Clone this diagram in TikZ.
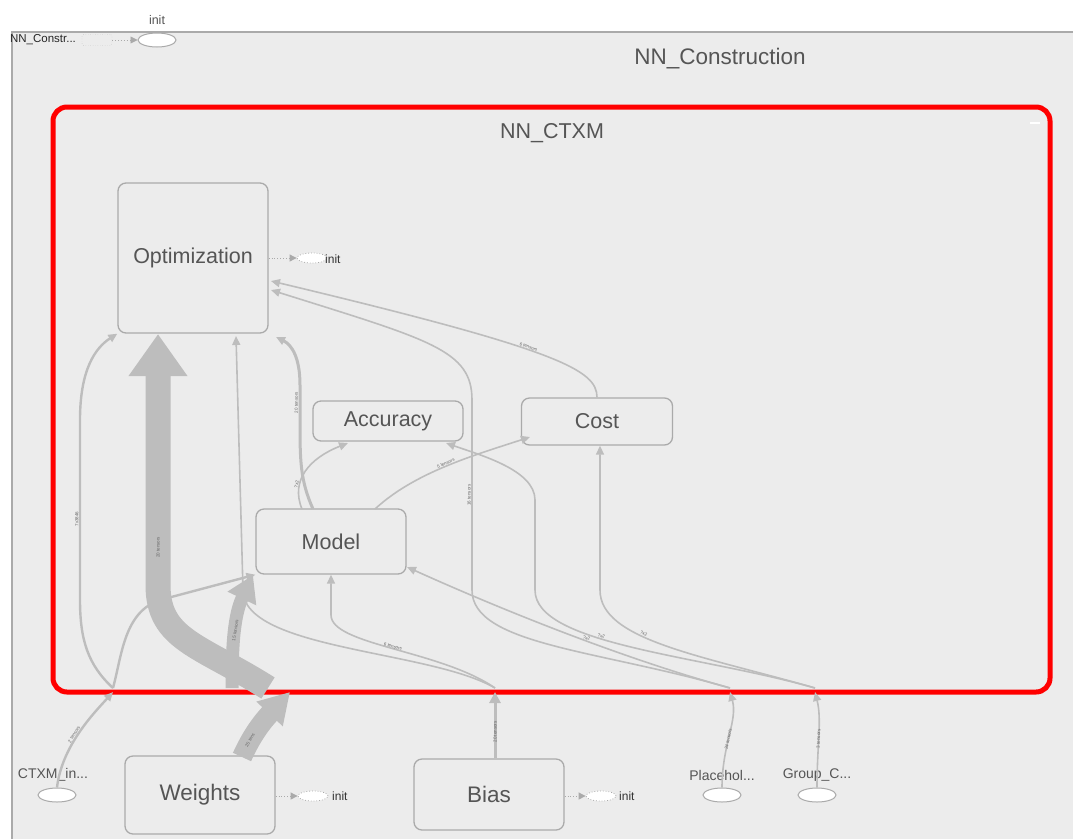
\documentclass[tikz,border=0pt]{standalone}
\usepackage{fontspec}
\setmainfont{Liberation Sans}
\usetikzlibrary{arrows.meta,shapes.geometric}
\definecolor{bg}{HTML}{ECECEC}
\definecolor{edgec}{HTML}{BDBDBD}
\definecolor{bord}{HTML}{AAAAAA}
\definecolor{txt}{HTML}{555555}
\begin{document}
\begin{tikzpicture}[x=1pt,y=-1pt,
  grp/.style={draw=bord, fill=bg, rounded corners=8pt, line width=1.3pt, text=txt,
     font=\fontsize{21.5}{23}\selectfont, inner sep=0pt},
  opell/.style={ellipse, draw=bord, fill=white, line width=1pt, minimum width=38pt, minimum height=14pt, inner sep=0pt},
  initell/.style={ellipse, draw=bord, dotted, fill=white, line width=0.8pt, minimum width=30pt, minimum height=10pt, inner sep=0pt},
  initlbl/.style={font=\fontsize{12}{13}\selectfont, text=black!80, anchor=west, inner sep=0pt},
  oplbl/.style={font=\fontsize{14}{15}\selectfont, text=txt, inner sep=0pt},
  ctl/.style={draw=bord, dotted, line width=0.9pt, -{Triangle[length=7pt,width=7pt]}},
  e/.style={draw=edgec, line width=1.6pt, -{Triangle[length=9pt,width=8pt]}},
  ew/.style={draw=edgec, line width=3pt, -{Triangle[length=11pt,width=11pt]}},
  lbl/.style={sloped, font=\fontsize{4.5}{5}\selectfont, text=black!60, inner sep=0.5pt}
]
\useasboundingbox (0,0) rectangle (1073,839);
\fill[white] (0,0) rectangle (1073,839);
% outer group
\fill[bg] (12,32) rectangle (1073,839);
\draw[bord, line width=1.2pt] (12,839) -- (12,32) -- (1073,32);
\node[font=\fontsize{22.5}{24}\selectfont, text=txt] (nnc) at (720,59) {NN\_Construction};
% red group
\node[draw=red, line width=5pt, rounded corners=14pt, fill=bg, minimum width=997pt, minimum height=585pt, inner sep=0pt] (ctxm) at (551.5,399.5) {};
\node[font=\fontsize{21.5}{23}\selectfont, text=txt] (ctxmlbl) at (552,133) {NN\_CTXM};
\draw[white, line width=1.2pt] (1030,123) -- (1040,123);

% top: NN_Constr... -> init
\node[font=\fontsize{11.5}{12}\selectfont, text=black!85, inner sep=0pt] (nnsmall) at (43,40) {NN\_Constr...};
\node[draw=bord, dotted, rounded corners=2pt, minimum width=30pt, minimum height=11pt, inner sep=0pt] (nnbox) at (97,40) {};
\node[opell] (topinit) at (157,40) {};
\node[font=\fontsize{12.5}{13}\selectfont, text=txt] (topinitlbl) at (157,20) {init};
\draw[ctl] (nnbox) -- (topinit);

% main nodes
\node[grp, minimum width=150pt, minimum height=150pt] (opt) at (193,258) {Optimization};
\node[grp, minimum width=150pt, minimum height=40pt] (acc) at (388,421) {Accuracy};
\node[grp, minimum width=151pt, minimum height=47pt] (cost) at (597,421.5) {Cost};
\node[grp, minimum width=150pt, minimum height=65pt] (model) at (331,541.5) {Model};
\node[grp, minimum width=150pt, minimum height=78pt, font=\fontsize{22.5}{24}\selectfont] (weights) at (200,795) {Weights};
\node[grp, minimum width=150pt, minimum height=71pt, font=\fontsize{22.5}{24}\selectfont] (bias) at (489,794.5) {Bias};

% op nodes
\node[opell] (ctxmin) at (57,795) {};
\node[oplbl] (ctxminlbl) at (53,775) {CTXM\_in...};
\node[opell] (ph) at (722,795) {};
\node[oplbl] (phlbl) at (722,775) {Placehol...};
\node[opell] (grc) at (817,795) {};
\node[oplbl] (grclbl) at (817,775) {Group\_C...};

% init nodes
\node[initell] (optinit) at (312,258) {};
\node[initlbl] (optinitlbl) at (325,259) {init};
\draw[ctl] (opt.east |- optinit) -- (optinit);
\node[initell] (winit) at (313,796) {};
\node[initlbl] (winitlbl) at (332,796) {init};
\draw[ctl] (weights.east |- winit) -- (winit);
\node[initell] (binit) at (601,796) {};
\node[initlbl] (binitlbl) at (619,796) {init};
\draw[ctl] (bias.east |- binit) -- (binit);

% boundary points on the red group
\coordinate (cB) at (113,692);
\coordinate (wB) at (290,692);
\coordinate (bB) at (495,692);
\coordinate (pB) at (730,692);
\coordinate (gB) at (815,692);
\coordinate (cI) at (113,688);
\coordinate (wI1) at (268,688);
\coordinate (wI2) at (232,688);
\coordinate (bI) at (495,688);
\coordinate (pI) at (730,688);
\coordinate (gI) at (815,688);

% outside edges
\draw[e, line width=2.4pt] (ctxmin.north) .. controls (62,745) and (95,712) .. node[lbl, pos=0.45, above] {2 tensors} (cB);
\draw[draw=edgec, line width=20pt, -{Triangle[length=30pt,width=34pt]}] (242,757) .. controls (252,735) and (262,722) .. (wB);
\node[font=\fontsize{4.5}{5}\selectfont, text=black!60, rotate=60, inner sep=0.5pt] (wlbl) at (250,740) {25 tens};
\draw[ew] (bias.north -| bB) -- node[lbl, pos=0.4] {20 tensors} (bB);
\draw[e] (ph.north) .. controls (722,745) and (738,720) .. node[lbl, pos=0.45] {24 tensors} (pB);
\draw[e] (grc.north) .. controls (817,745) and (822,720) .. node[lbl, pos=0.45] {3 tensors} (gB);

% inside edges from CTXM_in
\draw[e, line width=2.4pt] (cI) .. controls (88,665) and (80,640) .. (80,600) -- node[lbl, pos=0.45, above] {7x3846} (80,420) .. controls (80,370) and (95,348) .. (opt.south west);
\draw[e, line width=2.4pt] (cI) .. controls (122,655) and (124,612) .. (160,600) -- (model.south west);

% inside edges from Weights
\draw[draw=edgec, line width=25pt, -{Triangle[length=42pt,width=56pt]}] (wI1) .. controls (200,645) and (158,640) .. (158,585) -- node[lbl, pos=0.15] {20 tensors} (158,334);
\draw[draw=edgec, line width=13pt, -{Triangle[length=26pt,width=30pt]}] (wI2) .. controls (232,645) and (234,615) .. node[lbl, pos=0.5] {15 tensors} (253,575);

% inside edges from Bias
\draw[e] (bI) .. controls (440,650) and (331,645) .. (331,615) -- (model.south);
\draw[e] (bI) .. controls (430,650) and (243,650) .. (243,590) -- (236,336);
\path (bI) .. controls (440,650) and (331,645) .. (331,615) node[lbl, pos=0.5, above] {6 tensors};

% inside edges from Placeholder
\draw[e] (pI) .. controls (600,650) and (472,645) .. (472,590) -- node[lbl, pos=0.5, above] {16 tensors} (472,400) .. controls (472,350) and (430,340) .. (271,290);
\draw[e] (pI) .. controls (610,655) and (480,600) .. node[lbl, pos=0.4, above] {?x2} (407,567);

% inside edges from Group_C
\draw[e] (gI) .. controls (700,655) and (600,640) .. node[lbl, pos=0.6, above] {?x2} (600,590) -- (cost.south -| 600,0);
\draw[e] (gI) .. controls (700,655) and (535,645) .. node[lbl, pos=0.6, above] {?x2} (535,590) -- (535,500) .. controls (535,470) and (480,455) .. (446,443);

% Model outputs
\draw[e, line width=3pt] (313,509) .. controls (300,480) and (300,460) .. (300,420) -- node[lbl, pos=0.5, above] {20 tensors} (300,385) .. controls (300,358) and (292,345) .. (276,337);
\draw[e] (302,509) .. controls (290,480) and (310,458) .. node[lbl, pos=0.3, above] {?x2} (348,443);
\draw[e] (375,509) .. controls (415,472) and (475,455) .. node[lbl, pos=0.5, above] {5 tensors} (530,437);

% Cost -> Optimization
\draw[e] (cost.north) .. controls (597,370) and (560,350) .. node[lbl, pos=0.55, above] {6 tensors} (271,281);
\end{tikzpicture}
\end{document}
